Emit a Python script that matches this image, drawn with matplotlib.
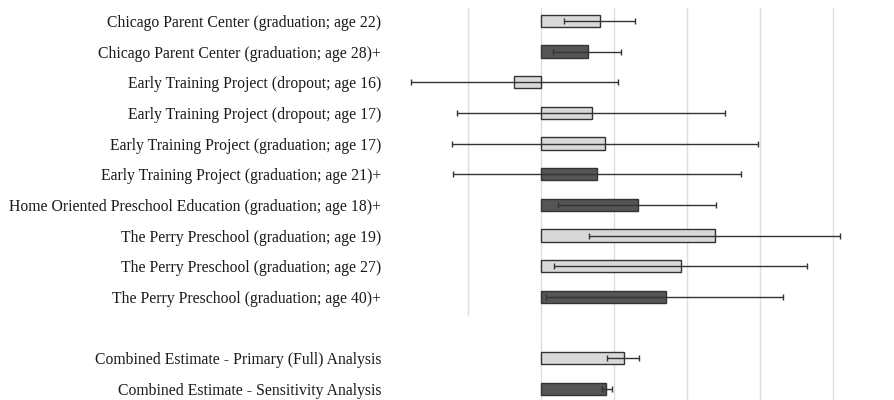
import matplotlib
matplotlib.use("Agg")
import matplotlib.pyplot as plt

plt.rcParams['font.family'] = ['Liberation Serif', 'DejaVu Serif']

labels = [
    "Chicago Parent Center (graduation; age 22)",
    "Chicago Parent Center (graduation; age 28)+",
    "Early Training Project (dropout; age 16)",
    "Early Training Project (dropout; age 17)",
    "Early Training Project (graduation; age 17)",
    "Early Training Project (graduation; age 21)+",
    "Home Oriented Preschool Education (graduation; age 18)+",
    "The Perry Preschool (graduation; age 19)",
    "The Perry Preschool (graduation; age 27)",
    "The Perry Preschool (graduation; age 40)+",
    "Combined Estimate - Primary (Full) Analysis",
    "Combined Estimate - Sensitivity Analysis",
]
rows = [0, 1, 2, 3, 4, 5, 6, 7, 8, 9, 11, 12]
effect = [0.162, 0.129, -0.074, 0.140, 0.175, 0.153, 0.266, 0.477, 0.384, 0.342, 0.227, 0.178]
ci_low = [0.063, 0.033, -0.356, -0.230, -0.244, -0.241, 0.047, 0.132, 0.036, 0.014, 0.181, 0.167]
ci_high = [0.258, 0.219, 0.211, 0.504, 0.595, 0.548, 0.479, 0.819, 0.729, 0.663, 0.268, 0.195]
sensitivity = [False, True, False, False, False, True, True, False, False, True, False, True]
grid_x = [-0.2, 0.0, 0.2, 0.4, 0.6, 0.8]

light = "#d9d9d9"
dark = "#555555"

fig = plt.figure(figsize=(8.95, 4.0), dpi=100)
ax = fig.add_axes([395 / 895, 0, 500 / 895, 1])

ax.set_xlim((395 - 541) / 365, (895 - 541) / 365)
ax.set_ylim(12.36, -0.68)

# gridlines (the left one only spans the study rows)
for g in grid_x:
    y_end = 9.6 if g < 0 else 12.36
    ax.vlines(g, -0.45, y_end, color="#dddddd", lw=1.0, zorder=0)

colors = [dark if s else light for s in sensitivity]
ax.barh(rows, effect, height=0.4, color=colors, edgecolor="#333333",
        linewidth=1.0, zorder=2)

xerr = [[e - lo for e, lo in zip(effect, ci_low)],
        [hi - e for e, hi in zip(effect, ci_high)]]
ax.errorbar(effect, rows, xerr=xerr, fmt="none", ecolor="#333333",
            elinewidth=1.0, capsize=2.5, capthick=1.0, zorder=3)

ax.set_yticks(rows)
ax.set_yticklabels(labels, fontsize=11.3, color="#1a1a1a")
ax.tick_params(axis="y", length=0, pad=10)
ax.set_xticks([])
for s in ax.spines.values():
    s.set_visible(False)

fig.savefig("out.png", dpi=100)
